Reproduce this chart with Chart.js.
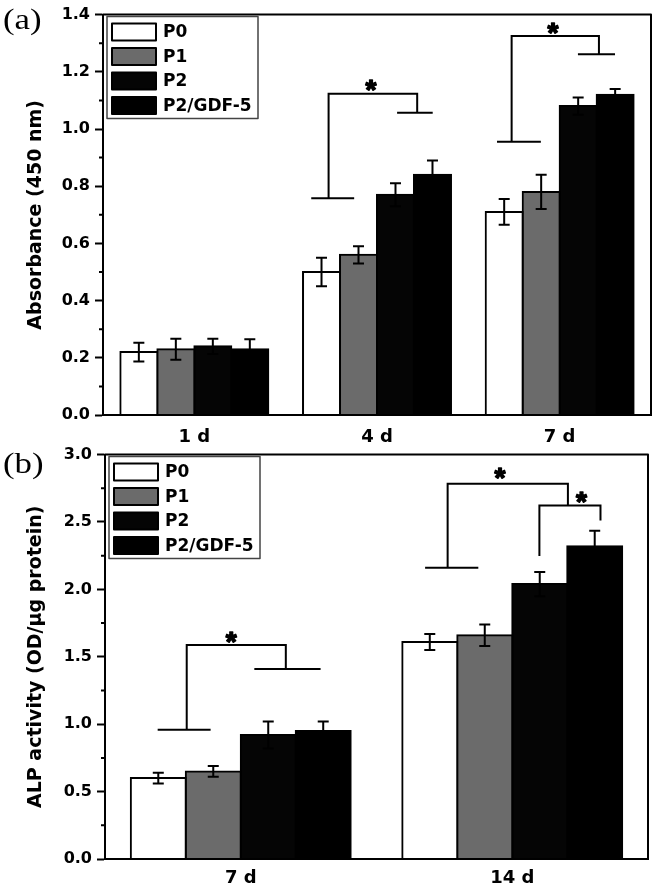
<!DOCTYPE html>
<html>
<head>
<meta charset="utf-8">
<script src="https://cdn.jsdelivr.net/npm/chart.js@4.4.0/dist/chart.umd.min.js"></script>
<style>
  html, body { margin: 0; padding: 0; background: #fff; }
  #wrap { position: relative; width: 657px; height: 888px; overflow: hidden; }
  .panel { position: absolute; left: 0; width: 657px; height: 448px; }
</style>
</head>
<body>
<div id="wrap">
  <div class="panel" style="top:0"><canvas id="chartA" width="657" height="448"></canvas></div>
  <div class="panel" style="top:440px"><canvas id="chartB" width="657" height="448"></canvas></div>
</div>
<script>
// shared series
const seriesNames = ['P0', 'P1', 'P2', 'P2/GDF-5'];
const seriesColors = ['#ffffff', '#6b6b6b', '#050505', '#000000'];

// panel (a): absorbance
const daysA = ['1 d', '4 d', '7 d'];
const absP0 = [0.22, 0.50, 0.71];
const absP1 = [0.23, 0.56, 0.78];
const absP2 = [0.24, 0.77, 1.08];
const absP3 = [0.23, 0.84, 1.12];
const absErrP0 = [0.033, 0.05, 0.045];
const absErrP1 = [0.037, 0.03, 0.06];
const absErrP2 = [0.027, 0.04, 0.03];
const absErrP3 = [0.035, 0.05, 0.02];
// significance brackets: [category index, value] points
const absBrackets = [
  [[0.64, 0.758], [0.875, 0.758]],
  [[0.735, 0.758], [0.735, 1.123], [1.22, 1.123], [1.22, 1.057]],
  [[1.11, 1.057], [1.305, 1.057]],
  [[1.657, 0.955], [1.897, 0.955]],
  [[1.737, 0.955], [1.737, 1.325], [2.215, 1.325], [2.215, 1.261]],
  [[2.10, 1.261], [2.303, 1.261]]
];
const absStars = [[0.967, 1.152], [1.963, 1.351]];

// panel (b): ALP activity
const daysB = ['7 d', '14 d'];
const alpP0 = [0.60, 1.61];
const alpP1 = [0.65, 1.66];
const alpP2 = [0.92, 2.04];
const alpP3 = [0.95, 2.32];
const alpErrP0 = [0.04, 0.06];
const alpErrP1 = [0.04, 0.08];
const alpErrP2 = [0.10, 0.09];
const alpErrP3 = [0.07, 0.115];
const alpBrackets = [
  [[-0.306, 0.958], [-0.111, 0.958]],
  [[-0.199, 0.958], [-0.199, 1.587], [0.166, 1.587], [0.166, 1.409]],
  [[0.05, 1.409], [0.294, 1.409]],
  [[0.679, 2.160], [0.875, 2.160]],
  [[0.762, 2.160], [0.762, 2.784], [1.205, 2.784], [1.205, 2.622]],
  [[1.10, 2.247], [1.10, 2.622], [1.325, 2.622], [1.325, 2.511]]
];
const alpStars = [[-0.035, 1.643], [0.955, 2.862], [1.255, 2.683]];

Chart.defaults.font.family = '"DejaVu Sans", sans-serif';
Chart.defaults.color = '#000';

const decor = {
  id: 'decor',
  afterDatasetsDraw(chart, args, opts) {
    const ctx = chart.ctx;
    const xs = chart.scales.x, ys = chart.scales.y, area = chart.chartArea;
    ctx.save();
    ctx.strokeStyle = '#000';
    ctx.lineWidth = 2;
    ctx.lineCap = 'butt';

    // error bars
    chart.data.datasets.forEach((ds, i) => {
      chart.getDatasetMeta(i).data.forEach((bar, j) => {
        const v = ds.data[j], e = opts.errors[i][j];
        const t = ys.getPixelForValue(v + e), b = ys.getPixelForValue(v - e);
        ctx.beginPath();
        ctx.moveTo(bar.x, t); ctx.lineTo(bar.x, b);
        ctx.moveTo(bar.x - 5.5, t); ctx.lineTo(bar.x + 5.5, t);
        ctx.moveTo(bar.x - 5.5, b); ctx.lineTo(bar.x + 5.5, b);
        ctx.stroke();
      });
    });

    // brackets
    opts.brackets.forEach(line => {
      ctx.beginPath();
      line.forEach((p, k) => {
        const px = xs.getPixelForValue(p[0]), py = ys.getPixelForValue(p[1]);
        if (k === 0) ctx.moveTo(px, py); else ctx.lineTo(px, py);
      });
      ctx.stroke();
    });

    // stars
    ctx.fillStyle = '#000';
    ctx.font = 'bold 28px "Liberation Sans"';
    ctx.textAlign = 'center';
    ctx.textBaseline = 'alphabetic';
    ctx.lineWidth = 1.4;
    ctx.lineJoin = 'round';
    const m = ctx.measureText('*');
    opts.stars.forEach(s => {
      const px = xs.getPixelForValue(s[0]), py = ys.getPixelForValue(s[1]);
      const by = py + (m.actualBoundingBoxAscent - m.actualBoundingBoxDescent) / 2;
      ctx.fillText('*', px, by);
      ctx.strokeText('*', px, by);
    });

    // minor ticks halfway between labelled ticks
    ctx.lineWidth = 2;
    const tk = ys.ticks;
    ctx.beginPath();
    for (let k = 0; k < tk.length - 1; k++) {
      const py = ys.getPixelForValue((tk[k].value + tk[k + 1].value) / 2);
      ctx.moveTo(area.left - 4, py); ctx.lineTo(area.left, py);
    }
    ctx.stroke();

    // frame
    ctx.strokeRect(area.left, area.top, area.right - area.left, area.bottom - area.top);

    // legend
    const lx = area.left + 4, ly = area.top + 2;
    ctx.fillStyle = '#fff';
    ctx.fillRect(lx, ly, 151, 102);
    ctx.strokeStyle = '#444';
    ctx.lineWidth = 1.5;
    ctx.strokeRect(lx, ly, 151, 102);
    ctx.font = 'bold 17px "DejaVu Sans"';
    ctx.textAlign = 'left';
    ctx.textBaseline = 'middle';
    chart.data.datasets.forEach((ds, i) => {
      const sy = ly + 7 + i * 24.5;
      ctx.fillStyle = ds.backgroundColor;
      ctx.fillRect(lx + 5, sy, 44, 17);
      ctx.strokeStyle = '#000';
      ctx.lineWidth = 2;
      ctx.strokeRect(lx + 5, sy, 44, 17);
      ctx.fillStyle = '#000';
      ctx.fillText(ds.label, lx + 56, sy + 9);
    });

    // panel letter
    ctx.save();
    ctx.translate(3, opts.letterY);
    ctx.scale(1.2, 1);
    ctx.font = '29px "Liberation Serif"';
    ctx.textBaseline = 'alphabetic';
    ctx.fillText(opts.letter, 0, 0);
    ctx.restore();

    ctx.restore();
  }
};

function makeChart(id, labels, series, cfg) {
  return new Chart(document.getElementById(id), {
    type: 'bar',
    data: {
      labels: labels,
      datasets: series.map((d, i) => ({
        label: seriesNames[i],
        data: d,
        backgroundColor: seriesColors[i],
        borderColor: '#000',
        borderWidth: 2,
        borderSkipped: 'bottom',
        inflateAmount: 1,
        categoryPercentage: 0.81,
        barPercentage: 1.0
      }))
    },
    options: {
      responsive: false,
      animation: false,
      layout: { padding: { top: cfg.top, right: cfg.right, left: 0, bottom: 0 } },
      plugins: {
        legend: { display: false },
        tooltip: { enabled: false },
        decor: { errors: cfg.errors, brackets: cfg.brackets, stars: cfg.stars, letter: cfg.letter, letterY: cfg.letterY }
      },
      scales: {
        x: {
          grid: { display: false, drawTicks: false },
          border: { display: true, color: '#000', width: 2 },
          ticks: { font: { size: 18, weight: 'bold' }, padding: cfg.xPad, color: '#000' },
          afterFit: s => { s.height = cfg.xHeight; }
        },
        y: {
          min: 0,
          max: cfg.max,
          grid: { display: true, drawOnChartArea: false, tickLength: 8, tickWidth: 2, tickColor: '#000' },
          border: { display: true, color: '#000', width: 2 },
          ticks: {
            stepSize: cfg.step,
            autoSkip: false,
            padding: 5,
            font: { size: 16, weight: 'bold' },
            color: '#000',
            callback: v => v.toFixed(1)
          },
          title: {
            display: true,
            text: cfg.title,
            font: { size: 19, weight: 'bold' },
            color: '#000',
            padding: { top: 25, bottom: 0 }
          },
          afterFit: s => { s.width = cfg.yWidth; }
        }
      }
    },
    plugins: [decor]
  });
}

makeChart('chartA', daysA, [absP0, absP1, absP2, absP3], {
  top: 12, right: 6, xHeight: 33, yWidth: 103, xPad: 12,
  max: 1.4, step: 0.2, title: 'Absorbance (450 nm)',
  errors: [absErrP0, absErrP1, absErrP2, absErrP3],
  brackets: absBrackets, stars: absStars, letter: '(a)', letterY: 29
});

makeChart('chartB', daysB, [alpP0, alpP1, alpP2, alpP3], {
  top: 13, right: 9, xHeight: 29, yWidth: 105, xPad: 9,
  max: 3.0, step: 0.5, title: 'ALP activity (OD/μg protein)',
  errors: [alpErrP0, alpErrP1, alpErrP2, alpErrP3],
  brackets: alpBrackets, stars: alpStars, letter: '(b)', letterY: 33
});
</script>
</body>
</html>
